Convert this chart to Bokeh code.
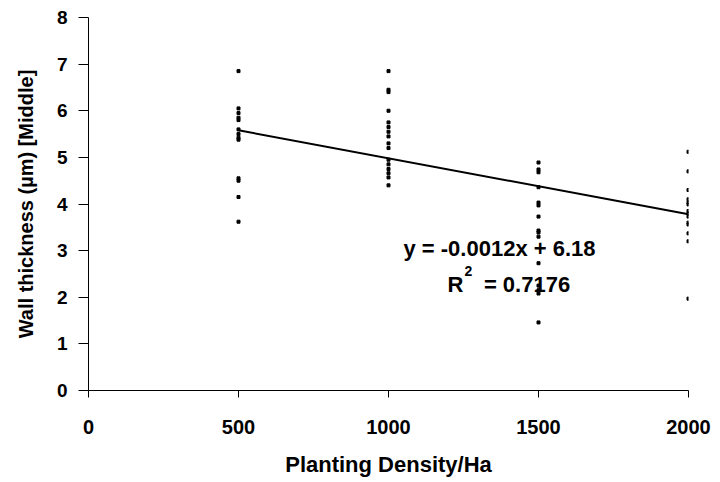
from bokeh.plotting import figure
from bokeh.models import Range1d, FixedTicker, Label
from bokeh.embed import file_html
from bokeh.resources import INLINE

# Data
density_500 = [6.85, 6.05, 5.95, 5.85, 5.8, 5.6, 5.5, 5.42, 5.38, 4.55, 4.5, 4.15, 3.62]
density_1000 = [6.85, 6.45, 6.4, 6.0, 5.75, 5.65, 5.55, 5.45, 5.3, 5.2, 4.95, 4.85, 4.75, 4.66, 4.57, 4.4]
density_1500 = [4.89, 4.74, 4.68, 4.36, 4.03, 3.97, 3.73, 3.43, 3.39, 3.30, 2.73, 2.25, 2.15, 2.08, 1.46]
density_2000 = [5.12, 4.7, 4.3, 4.1, 4.03, 3.99, 3.85, 3.8, 3.73, 3.6, 3.56, 3.37, 3.2, 1.97]
densities = [500, 1000, 1500, 2000]
slope = -0.0012
intercept = 6.18
r_squared = 0.7176
x_ticks = [0, 500, 1000, 1500, 2000]
y_ticks = [0, 1, 2, 3, 4, 5, 6, 7, 8]

xs, ys = [], []
for d, vals in zip(densities, [density_500, density_1000, density_1500, density_2000]):
    xs += [d] * len(vals)
    ys += vals

FONT = "Liberation Sans"

p = figure(width=712, height=482, output_backend="svg", toolbar_location=None,
           x_range=Range1d(0, 2000), y_range=Range1d(0, 8),
           min_border_left=88, min_border_right=24, min_border_top=17, min_border_bottom=92)
p.outline_line_color = None
p.xgrid.visible = False
p.ygrid.visible = False
p.background_fill_color = "white"
p.border_fill_color = "white"

p.scatter(xs, ys, marker="square", size=3, color="black")

x0, x1 = min(densities), max(densities)
p.line([x0, x1], [slope * x0 + intercept, slope * x1 + intercept], line_color="black", line_width=2)

for ax in (p.xaxis[0], p.yaxis[0]):
    ax.axis_line_color = "black"
    ax.axis_line_width = 1
    ax.major_tick_line_color = "black"
    ax.minor_tick_line_color = None
    ax.major_label_text_font = FONT
    ax.major_label_text_font_style = "bold"
    ax.major_label_text_color = "black"
    ax.axis_label_text_font = FONT
    ax.axis_label_text_font_style = "bold"
    ax.axis_label_text_color = "black"

p.xaxis.major_label_text_font_size = "20px"
p.yaxis.major_label_text_font_size = "19px"
p.xaxis.axis_label_text_font_size = "22px"
p.yaxis.axis_label_text_font_size = "20px"

p.xaxis.ticker = FixedTicker(ticks=x_ticks)
p.yaxis.ticker = FixedTicker(ticks=y_ticks)
p.xaxis.major_tick_out = 7
p.xaxis.major_tick_in = 0
p.yaxis.major_tick_out = 10
p.yaxis.major_tick_in = 0
p.xaxis.major_label_standoff = 22
p.yaxis.major_label_standoff = 11
p.xaxis.axis_label = "Planting Density/Ha"
p.yaxis.axis_label = "Wall thickness (µm) [Middle]"
p.xaxis.axis_label_standoff = 15
p.yaxis.axis_label_standoff = 17

eq = "y = %.4fx + %.2f" % (slope, intercept)
p.add_layout(Label(x=1370, y=3.05, text=eq, text_font=FONT, text_font_style="bold",
                   text_font_size="22px", text_color="black",
                   text_align="center", text_baseline="middle"))
# R² = ... with a real superscript 2
p.add_layout(Label(x=1197, y=2.27, text="R", text_font=FONT,
                   text_font_style="bold", text_font_size="22px", text_color="black",
                   text_align="left", text_baseline="middle"))
p.add_layout(Label(x=1253, y=2.56, text="2", text_font=FONT,
                   text_font_style="bold", text_font_size="14px", text_color="black",
                   text_align="left", text_baseline="middle"))
p.add_layout(Label(x=1318, y=2.27, text="= %.4f" % r_squared, text_font=FONT,
                   text_font_style="bold", text_font_size="22px", text_color="black",
                   text_align="left", text_baseline="middle"))

open("out.html", "w").write(file_html(p, INLINE))
